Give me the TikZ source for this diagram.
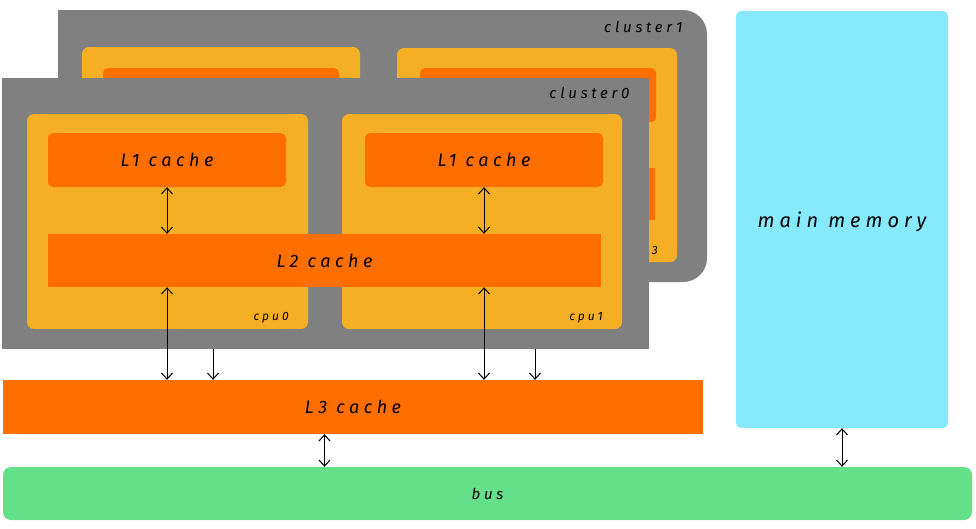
\documentclass[tikz,border=0pt]{standalone}
\usepackage{fontspec}
\newfontfamily\handfont[LetterSpace=25]{Fira Sans}
\usetikzlibrary{arrows.meta}
\definecolor{clgray}{HTML}{808080}
\definecolor{cpuyellow}{HTML}{F4AF24}
\definecolor{cacheorange}{HTML}{FF6F00}
\definecolor{memblue}{HTML}{87EAFC}
\definecolor{busgreen}{HTML}{65E08A}

\begin{document}
\begin{tikzpicture}[x=1pt,y=-1pt,
    boxbase/.style={inner sep=0pt, rounded corners=5pt},
    clusterbox/.style={boxbase, fill=clgray, rounded corners=0pt},
    cpubox/.style={boxbase, fill=cpuyellow, rounded corners=7pt},
    cachebox/.style={boxbase, fill=cacheorange},
    txt/.style={font=\handfont\itshape\fontsize{18}{21}\selectfont},
    cltxt/.style={font=\handfont\itshape\fontsize{15}{18}\selectfont, anchor=east},
    cputxt/.style={font=\handfont\itshape\fontsize{12}{14}\selectfont, anchor=east},
    biarrow/.style={{Straight Barb[length=6pt,width=11pt]}-{Straight Barb[length=6pt,width=11pt]}, line width=1pt},
    downarrow/.style={-{Straight Barb[length=6pt,width=11pt]}, line width=1pt}]
        \useasboundingbox (0,0) rectangle (976,528);
        % Back cluster
        \node[clusterbox, rounded corners=24pt, minimum width=649pt, minimum height=272pt] (cl1) at (382.5,146) {};
        \fill[clgray] (cl1.north west) rectangle ([xshift=60pt]cl1.south west);
        \node[cpubox, minimum width=278pt, minimum height=216pt] (cpuc) at (221,155) {};
        \node[cpubox, minimum width=280pt, minimum height=214pt] (cpud) at (537,155) {};
        \node[cachebox, minimum width=236pt, minimum height=54pt] (l1c) at (221,95) {};
        \node[cachebox, minimum width=236pt, minimum height=54pt] (l1d) at (538,95) {};
        \node[cachebox, rounded corners=0pt, minimum width=552pt, minimum height=52pt] (l2b) at (379,194) {};
        \node[cputxt] (cpudlabel) at ([xshift=-16pt,yshift=10pt]cpud.south east) {cpu3};
        \node[cltxt] (cl1label) at (686,27) {cluster1};
        % Front cluster
        \node[clusterbox, minimum width=647pt, minimum height=271pt] (cl0) at (325.5,213.5) {};
        \node[cltxt] (cl0label) at (633,93) {cluster0};
        \node[cpubox, minimum width=281pt, minimum height=215pt] (cpua) at (167.5,221.5) {};
        \node[cpubox, minimum width=280pt, minimum height=215pt] (cpub) at (482,221.5) {};
        \node[cputxt] (cpualabel) at ([xshift=-16pt,yshift=11pt]cpua.south east) {cpu0};
        \node[cputxt] (cpublabel) at ([xshift=-16pt,yshift=11pt]cpub.south east) {cpu1};
        \node[cachebox, minimum width=238pt, minimum height=54pt, txt] (l1a) at (167,160) {L1 cache};
        \node[cachebox, minimum width=238pt, minimum height=54pt, txt] (l1b) at (484,160) {L1 cache};
        \node[cachebox, rounded corners=0pt, minimum width=553pt, minimum height=53pt, txt] (l2) at (324.5,260.5) {L2 cache};
        % Shared parts
        \node[cachebox, rounded corners=0pt, minimum width=700pt, minimum height=54pt, txt] (l3) at (353,407) {L3 cache};
        \node[boxbase, fill=memblue, minimum width=212pt, minimum height=417pt] (mem) at (842,219.5) {};
        \node[txt, font=\handfont\itshape\fontsize{20}{24}\selectfont] (memlabel) at (842,222) {main memory};
        \node[boxbase, fill=busgreen, rounded corners=8pt, minimum width=969pt, minimum height=53pt,
              font=\handfont\itshape\fontsize{15}{18}\selectfont] (bus) at (487.5,493.5) {bus};
        % Add connectors
        \coordinate (da) at (213,0);
        \coordinate (db) at (535,0);
        \foreach \c in {a,b} {
            \draw[biarrow] (l1\c.south) -- (l1\c.south |- l2.north);
            \draw[biarrow] (l1\c |- l2.south) -- (l1\c |- l3.north);
            \draw[downarrow] (d\c |- cl0.south) -- (d\c |- l3.north);
        }
        \draw[biarrow] (l2 |- l3.south) -- (l2 |- bus.north);
        \draw[biarrow] (mem.south) -- (mem.south |- bus.north);
\end{tikzpicture}
\end{document}
